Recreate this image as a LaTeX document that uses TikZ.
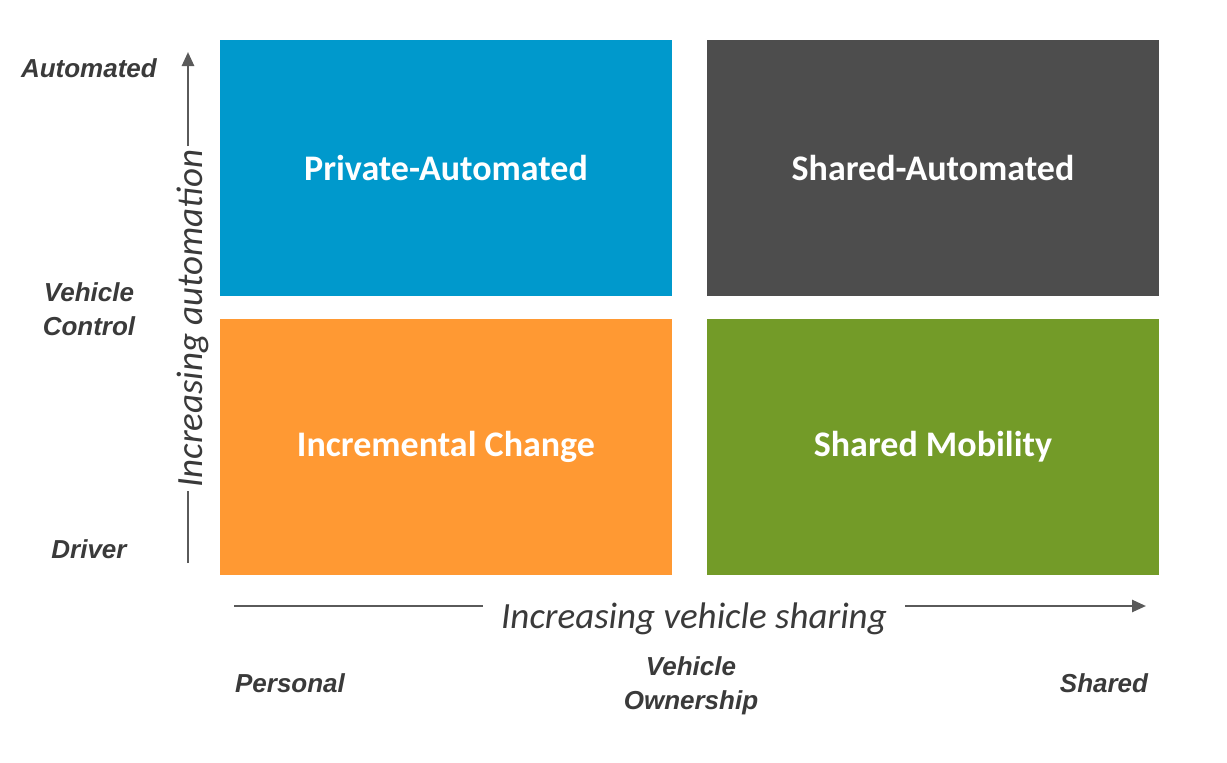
\documentclass[tikz,border=0pt]{standalone}
\usepackage{fontspec}
\setmainfont{Liberation Sans}
\newfontfamily\boxfont{Carlito}
\usetikzlibrary{arrows.meta}
\definecolor{qblue}{HTML}{0099CC}
\definecolor{qdark}{HTML}{4D4D4D}
\definecolor{qorange}{HTML}{FF9933}
\definecolor{qgreen}{HTML}{739B28}
\definecolor{axisgray}{HTML}{5A5A5A}
\definecolor{labelgray}{HTML}{3A3A3A}
\begin{document}
\begin{tikzpicture}[x=1pt,y=-1pt,
  quad/.style={minimum width=452pt,minimum height=256pt,inner sep=0pt,
    text=white,font=\boxfont\fontsize{36}{40}\selectfont\bfseries},
  axislabel/.style={text=labelgray,font=\fontsize{26}{34}\selectfont\bfseries\itshape,
    align=center,inner sep=0pt},
  axistitle/.style={text=labelgray,font=\boxfont\fontsize{37}{42}\selectfont\itshape},
  axisline/.style={draw=axisgray,line width=2.5pt},
  axisarrow/.style={axisline,-{Triangle[length=14pt,width=12pt]}}]
\useasboundingbox (0,0) rectangle (1227,763);
\fill[white] (0,0) rectangle (1227,763);

% the four quadrants
\node[quad,fill=qblue]   (pa) at (446,168) {Private-Automated};
\node[quad,fill=qdark]   (sa) at (933,168) {Shared-Automated};
\node[quad,fill=qorange] (ic) at (446,446.5) {Incremental Change};
\node[quad,fill=qgreen]  (sm) at (933,446.5) {Shared Mobility};

% vertical axis: vehicle control
\coordinate (vbot) at (188,563);
\coordinate (vtop) at (188,52);
\node[axistitle,rotate=90,inner xsep=3pt,inner ysep=0pt] (vtxt) at (193,318.5) {Increasing automation};
\draw[axisline] (vbot) -- (vbot |- vtxt.west);
\draw[axisarrow] (vtop |- vtxt.east) -- (vtop);

\node[axislabel,anchor=east] (auto) at (157,68) {Automated};
\node[axislabel] (vc) at (89,309) {Vehicle\\Control};
\node[axislabel] (drv) at (89,549) {Driver};

% horizontal axis: vehicle ownership
\coordinate (hleft) at (234,606);
\coordinate (hright) at (1146,606);
\node[axistitle,inner xsep=18pt,inner ysep=0pt] (htxt) at (694,619) {Increasing vehicle sharing};
\draw[axisline] (hleft) -- (htxt.west |- hleft);
\draw[axisarrow] (htxt.east |- hright) -- (hright);

\node[axislabel] (pers) at (290,683) {Personal};
\node[axislabel] (vo) at (691,685.5) {Vehicle\\Ownership};
\node[axislabel] (shr) at (1104,683) {Shared};
\end{tikzpicture}
\end{document}
